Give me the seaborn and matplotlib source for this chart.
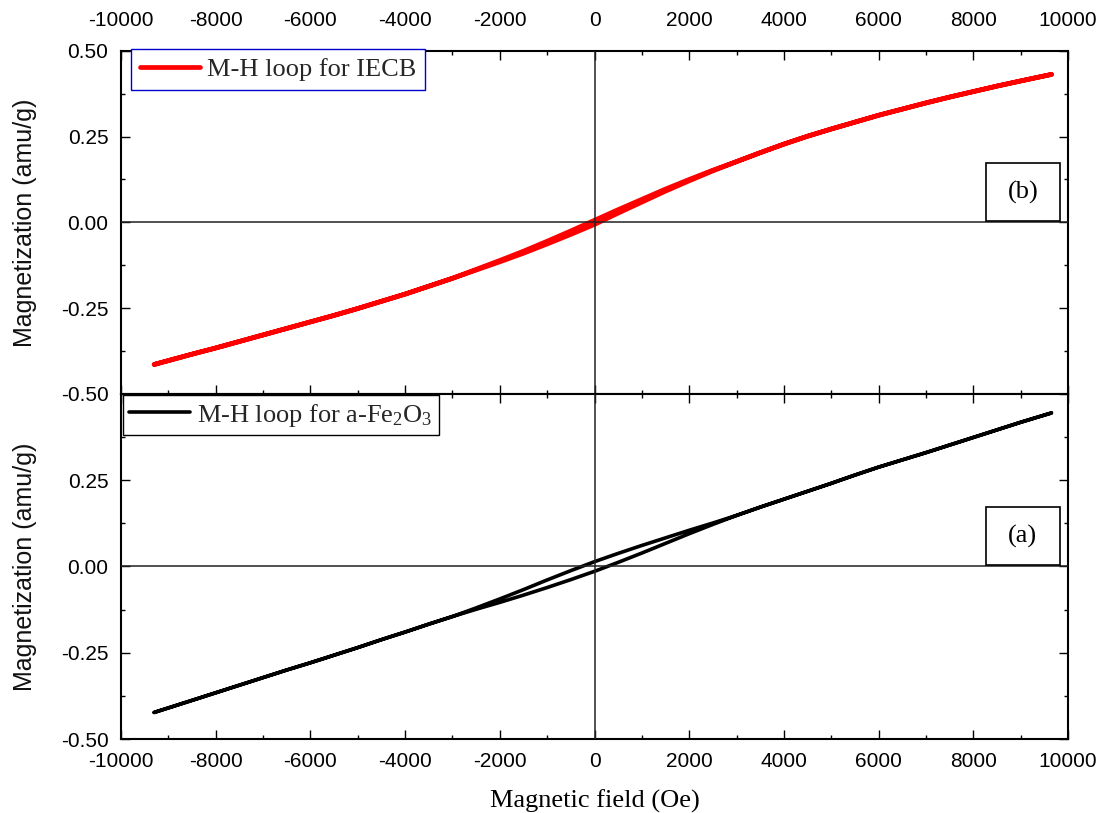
import matplotlib
matplotlib.use("Agg")
import matplotlib.pyplot as plt
import matplotlib.patches as mpatches
from matplotlib.ticker import MultipleLocator, FixedLocator, FixedFormatter
import pandas as pd
import seaborn as sns

# ---------------- data ----------------
H_field = [-9300, -8500, -8000, -7500, -7000, -6500, -6000, -5500, -5000, -4500,
           -4000, -3500, -3000, -2500, -2000, -1500, -1000, -500, 0, 500,
           1000, 1500, 2000, 2500, 3000, 3500, 4000, 4500, 5000, 5500,
           6000, 6500, 7000, 7500, 8000, 8500, 9000, 9650]

# (b) IECB : branch coming down from +H (upper) and going up from -H (lower)
iecb_desc = [-0.414, -0.384, -0.366, -0.347, -0.328, -0.309, -0.290, -0.271, -0.251, -0.230,
             -0.209, -0.186, -0.163, -0.137, -0.111, -0.084, -0.055, -0.025, 0.006, 0.037,
             0.067, 0.097, 0.125, 0.152, 0.177, 0.203, 0.228, 0.251, 0.272, 0.292,
             0.312, 0.330, 0.348, 0.365, 0.381, 0.397, 0.412, 0.431]
iecb_asc = [-0.414, -0.384, -0.366, -0.347, -0.328, -0.309, -0.290, -0.271, -0.251, -0.230,
            -0.209, -0.186, -0.163, -0.139, -0.115, -0.090, -0.063, -0.035, -0.006, 0.027,
            0.059, 0.091, 0.121, 0.150, 0.177, 0.203, 0.228, 0.251, 0.272, 0.292,
            0.312, 0.330, 0.348, 0.365, 0.381, 0.397, 0.412, 0.431]

# (a) alpha-Fe2O3
fe2o3_desc = [-0.423, -0.388, -0.366, -0.344, -0.322, -0.300, -0.279, -0.257, -0.235, -0.212,
              -0.190, -0.167, -0.145, -0.120, -0.094, -0.067, -0.039, -0.012, 0.014, 0.038,
              0.061, 0.083, 0.105, 0.126, 0.148, 0.172, 0.195, 0.218, 0.241, 0.265,
              0.288, 0.309, 0.330, 0.352, 0.374, 0.396, 0.418, 0.445]
fe2o3_asc = [-0.423, -0.388, -0.366, -0.344, -0.322, -0.300, -0.279, -0.257, -0.235, -0.212,
             -0.190, -0.167, -0.145, -0.124, -0.104, -0.083, -0.061, -0.038, -0.014, 0.012,
             0.039, 0.067, 0.095, 0.122, 0.148, 0.172, 0.195, 0.218, 0.241, 0.265,
             0.288, 0.309, 0.330, 0.352, 0.374, 0.396, 0.418, 0.445]

x_ticks = [-10000, -8000, -6000, -4000, -2000, 0, 2000, 4000, 6000, 8000, 10000]
x_tick_labels = ["-10000", "-8000", "-6000", "-4000", "-2000", "0", "2000", "4000", "6000", "8000", "10000"]
y_ticks = [-0.50, -0.25, 0.00, 0.25, 0.50]
y_tick_labels_top = ["-0.50", "-0.25", "0.00", "0.25", "0.50"]
y_tick_labels_bottom = ["-0.50", "-0.25", "0.00", "0.25", ""]

label_b = "M-H loop for IECB"
label_a = r"M-H loop for a-Fe$_{\mathrm{2}}$O$_{\mathrm{3}}$"
x_label = "Magnetic field (Oe)"
y_label = "Magnetization (amu/g)"


def loop_frame(h, desc, asc):
    assert len(h) == len(desc) == len(asc)
    return pd.DataFrame({"H": list(h[::-1]) + list(h),
                         "M": list(desc[::-1]) + list(asc)})


df_b = loop_frame(H_field, iecb_desc, iecb_asc)
df_a = loop_frame(H_field, fe2o3_desc, fe2o3_asc)

# ---------------- style ----------------
sns.set_theme(style="white")
plt.rcParams['font.family'] = ['Liberation Sans', 'DejaVu Sans']
plt.rcParams['mathtext.fontset'] = 'custom'
plt.rcParams['mathtext.rm'] = 'Liberation Serif'
plt.rcParams['mathtext.it'] = 'Liberation Serif:italic'
plt.rcParams['mathtext.bf'] = 'Liberation Serif:bold'

SERIF = ['Liberation Serif', 'DejaVu Serif']

fig = plt.figure(figsize=(10.99, 8.13), dpi=100)
ax_b = fig.add_axes([0.1101, 0.5154, 0.8617, 0.4222])
ax_a = fig.add_axes([0.1101, 0.0910, 0.8617, 0.4244])

sns.lineplot(data=df_b, x="H", y="M", sort=False, estimator=None, color="#ff0000",
             lw=3.4, ax=ax_b, label=label_b, zorder=2)
sns.lineplot(data=df_a, x="H", y="M", sort=False, estimator=None, color="black",
             lw=2.6, ax=ax_a, label=label_a, zorder=2)

for ax, ylabels in ((ax_b, y_tick_labels_top), (ax_a, y_tick_labels_bottom)):
    ax.set_xlim(-10000, 10000)
    ax.set_ylim(-0.5, 0.5)
    ax.axhline(0, color="#222222", lw=1.1, zorder=3)
    ax.axvline(0, color="#222222", lw=1.1, zorder=3)
    ax.xaxis.set_major_locator(FixedLocator(x_ticks))
    ax.xaxis.set_major_formatter(FixedFormatter(x_tick_labels))
    ax.xaxis.set_minor_locator(MultipleLocator(1000))
    ax.yaxis.set_major_locator(FixedLocator(y_ticks))
    ax.yaxis.set_major_formatter(FixedFormatter(ylabels))
    ax.yaxis.set_minor_locator(MultipleLocator(0.125))
    ax.tick_params(which="both", direction="in", top=True, right=True,
                   bottom=True, left=True, width=1.0, color="black",
                   labelsize=15, labelcolor="black")
    ax.tick_params(which="major", length=6.5)
    ax.tick_params(which="minor", length=3)
    ax.tick_params(axis="y", pad=9)
    for s in ax.spines.values():
        s.set_color("black")
        s.set_linewidth(1.5)
    ax.set_ylabel(y_label, fontsize=18, color="#111111", labelpad=17,
                  family=['Liberation Sans Narrow', 'Liberation Sans', 'DejaVu Sans'])
    ax.grid(False)

ax_b.tick_params(axis="x", labeltop=True, labelbottom=False, pad=15)
ax_b.set_xlabel("")
ax_a.tick_params(axis="x", labeltop=False, labelbottom=True, pad=9)
ax_a.set_xlabel(x_label, fontsize=19, family=SERIF, color="black", labelpad=14)

leg_b = ax_b.legend(loc="upper left", bbox_to_anchor=(0.0106, 1.005), borderaxespad=0,
                    prop={"family": SERIF, "size": 19}, frameon=True, fancybox=False,
                    handlelength=2.3, handletextpad=0.25, borderpad=0.33)
leg_b.get_frame().set_edgecolor("#0000cc")
leg_b.get_frame().set_linewidth(1.0)
leg_b.get_frame().set_alpha(1)

leg_a = ax_a.legend(loc="upper left", bbox_to_anchor=(0.002, 0.997), borderaxespad=0,
                    prop={"family": SERIF, "size": 19}, frameon=True, fancybox=False,
                    handlelength=2.3, handletextpad=0.25, borderpad=0.25)
leg_a.get_frame().set_edgecolor("black")
leg_a.get_frame().set_linewidth(1.0)
leg_a.get_frame().set_alpha(1)

for ax, tag in ((ax_b, "(b)"), (ax_a, "(a)")):
    ax.add_patch(mpatches.Rectangle((0.9131, 0.505), 0.0785, 0.167, transform=ax.transAxes,
                                    fill=True, facecolor="white", edgecolor="black",
                                    lw=1.2, zorder=4))
    ax.text(0.9131 + 0.0785 / 2, 0.505 + 0.167 / 2, tag, transform=ax.transAxes,
            ha="center", va="center", fontsize=19, family=SERIF, color="black", zorder=5)

fig.savefig("out.png", dpi=100)
